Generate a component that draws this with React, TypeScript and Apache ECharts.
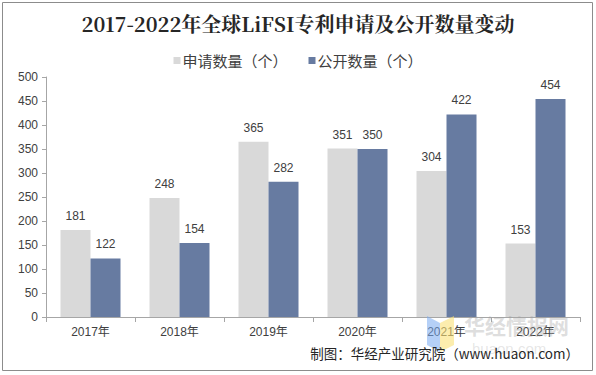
import React, { useEffect, useRef } from "react";
import * as echarts from "echarts";

const categories = ["2017年", "2018年", "2019年", "2020年", "2021年", "2022年"];
const applied = [181, 248, 365, 351, 304, 153];
const published = [122, 154, 282, 350, 422, 454];
const seriesNames = ["申请数量（个）", "公开数量（个）"];
const titleText = "2017-2022年全球LiFSI专利申请及公开数量变动";
const sourceText = "制图：华经产业研究院（www.huaon.com）";

export default function App() {
  const ref = useRef<HTMLDivElement>(null);
  useEffect(() => {
    if (!ref.current) return;
    const chart = echarts.init(ref.current, undefined, { renderer: "svg" });
    const labelStyle = { show: true, position: "top" as const, color: "#404040", fontSize: 12, fontFamily: "Arial, 'Liberation Sans', sans-serif", distance: 8 };
    chart.setOption({
      animation: false,
      backgroundColor: "#ffffff",
      title: {
        text: titleText,
        left: "center",
        top: 8,
        textStyle: { fontFamily: "'Noto Serif CJK SC', 'Liberation Serif', 'DejaVu Serif', serif", fontWeight: "bold", fontSize: 20, color: "#262626" },
      },
      legend: {
        top: 48,
        left: "center",
        itemWidth: 7,
        itemHeight: 7,
        itemGap: 21,
        icon: "rect",
        textStyle: { fontSize: 15, color: "#404040", fontFamily: "'Noto Sans CJK SC', sans-serif", padding: [0, 0, 0, -3] },
        data: seriesNames,
      },
      grid: { left: 46, right: 16, top: 77, bottom: 58, containLabel: false },
      xAxis: {
        type: "category",
        data: categories,
        axisLine: { lineStyle: { color: "#a6a6a6" } },
        axisTick: { show: true, length: 5, lineStyle: { color: "#a6a6a6" } },
        axisLabel: { color: "#404040", fontSize: 12, margin: 9, fontFamily: "Arial, 'Liberation Sans', 'Noto Sans CJK SC', sans-serif" },
      },
      yAxis: {
        type: "value",
        min: 0,
        max: 500,
        interval: 50,
        splitLine: { show: false },
        axisLine: { show: true, lineStyle: { color: "#a6a6a6" } },
        axisTick: { show: true, length: 4, lineStyle: { color: "#a6a6a6" } },
        axisLabel: { color: "#404040", fontSize: 12, margin: 8, fontFamily: "Arial, 'Liberation Sans', sans-serif" },
      },
      series: [
        {
          name: seriesNames[0],
          type: "bar",
          data: applied,
          barWidth: 30,
          barGap: "0%",
          itemStyle: { color: "#d9d9d9" },
          label: labelStyle,
        },
        {
          name: seriesNames[1],
          type: "bar",
          data: published,
          barWidth: 30,
          barGap: "0%",
          itemStyle: { color: "#677ba1" },
          label: labelStyle,
        },
      ],
      graphic: [
        {
          type: "rect",
          shape: { x: 2.5, y: 2.5, width: 590, height: 368 },
          style: { fill: "none", stroke: "#8c8c8c", lineWidth: 1 },
          silent: true,
        },
        {
          type: "polygon",
          shape: { points: [[427, 316], [440, 323], [440, 352], [427, 345]] },
          style: { fill: "rgba(120,170,240,0.55)" },
          silent: true,
          z: 10,
        },
        {
          type: "polygon",
          shape: { points: [[440, 323], [454, 316], [454, 345], [440, 352]] },
          style: { fill: "rgba(250,225,120,0.6)" },
          silent: true,
          z: 10,
        },
        {
          type: "text",
          left: 464,
          top: 314,
          style: { text: "华经情报网", fontSize: 21, fontWeight: "bold", fill: "rgba(160,160,160,0.35)", fontFamily: "'Noto Sans CJK SC', sans-serif" },
          silent: true,
          z: 10,
        },
        {
          type: "text",
          left: 472,
          top: 341,
          style: { text: "huaon.com", fontSize: 15, fill: "rgba(170,170,170,0.3)", fontFamily: "Arial, sans-serif" },
          silent: true,
          z: 10,
        },
        {
          type: "text",
          right: 17,
          top: 346,
          style: { text: sourceText, fontSize: 13.5, fill: "#262626", fontFamily: "'Noto Sans CJK SC', sans-serif" },
          silent: true,
          z: 11,
        },
      ],
    });
    return () => chart.dispose();
  }, []);
  return (
    <div
      ref={ref}
      style={{ position: "fixed", left: 0, top: 0, width: 596, height: 375 }}
    />
  );
}
